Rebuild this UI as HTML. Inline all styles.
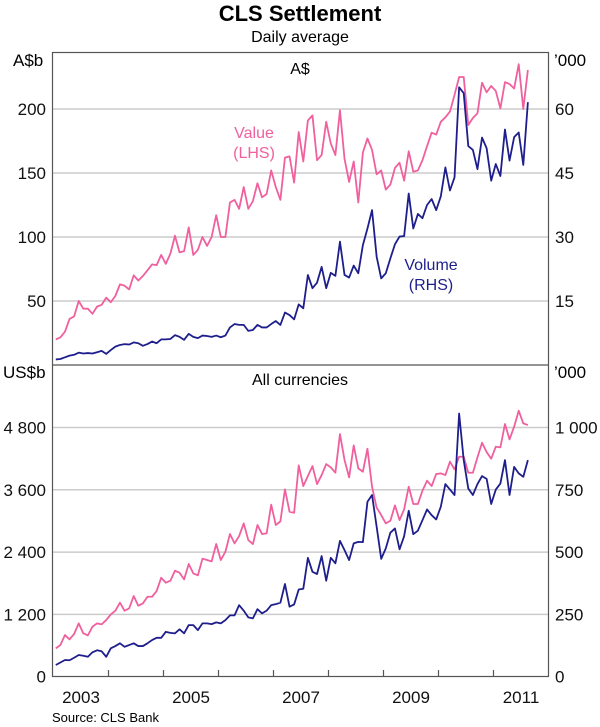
<!DOCTYPE html>
<html><head><meta charset="utf-8"><style>
body{margin:0;background:#fff;}
svg{display:block;font-family:"Liberation Sans",Arial,sans-serif;}
</style></head><body>
<svg id="chart" width="600" height="727" viewBox="0 0 600 727">
<text x="300" y="21" text-anchor="middle" font-size="22" font-weight="bold">CLS Settlement</text>
<text x="300" y="42" text-anchor="middle" font-size="16">Daily average</text>
<g id="grid"></g>
<g id="series"></g>
<rect x="52.5" y="52.5" width="496" height="624" fill="none" stroke="#555" stroke-width="1.2"/>
<line x1="52.5" y1="365" x2="548.5" y2="365" stroke="#555" stroke-width="1.2"/>
<g id="labels" font-size="17" fill="#111"></g>
<text x="300" y="74" text-anchor="middle" font-size="16">A$</text>
<text x="300" y="385" text-anchor="middle" font-size="16">All currencies</text>
<text x="13" y="66" font-size="17">A$b</text>
<text x="554" y="66" font-size="17">’000</text>
<text x="3" y="378" font-size="17">US$b</text>
<text x="554" y="378" font-size="17">’000</text>
<text x="254" y="138" text-anchor="middle" font-size="16" fill="#f0609e">Value</text>
<text x="254" y="158" text-anchor="middle" font-size="16" fill="#f0609e">(LHS)</text>
<text x="431" y="270" text-anchor="middle" font-size="16" fill="#1e1e8c">Volume</text>
<text x="431" y="290" text-anchor="middle" font-size="16" fill="#1e1e8c">(RHS)</text>
<text x="52" y="722" font-size="13">Source: CLS Bank</text>
</svg>
<script>
const topValue=[20,21.5,26,36,38,50,44,44,40,45.6,47,52.6,49,54,63,62,59,70,66,69.5,74,78.6,78,86,79,87,101,88,89,107.5,86,90,100,93,100,117,100,100,127,129,122,139,122,128,142,131,133.6,152,139,129,162,163,142.5,182,159,191,195,160,164,190,173,164,199,161,143,159,127,166,177,168,149,152,137,141,154,158,144,167,151,152,160,171,181.5,180,190,193.5,198,211,225,225,187.5,193,196.6,220.5,213,218,214,200.5,221,219.5,216,235,200,230.5];
const topVolume=[1.3,1.4,1.8,2.2,2.4,2.9,2.7,2.8,2.7,3.0,3.3,2.6,3.5,4.3,4.7,4.9,4.8,5.3,5.1,4.5,4.9,5.5,5.1,6.0,6.0,6.1,7.0,6.6,5.9,7.3,6.6,6.3,6.9,6.8,6.6,6.9,6.5,6.9,8.8,9.6,9.4,9.4,8.0,8.2,9.4,8.8,8.8,9.6,10.3,9.4,12.3,11.7,10.7,14.2,13.3,21.1,18.0,19.3,23.0,18.0,21.6,20.9,28.9,21.1,20.5,23.3,21.5,28.1,32.0,36.3,25.4,20.3,21.5,25.0,28.3,30.1,30.2,40.2,32.0,35.4,34.4,37.5,38.9,36.3,39.5,46.3,40.9,44.0,65.1,63.7,51.3,50.4,45.9,53.3,50.8,43.2,47.1,44.3,55.2,47.9,53.4,54.5,46.9,61.6];
const allValue=[546,610,802,719,822,1027,835,796,963,1027,1008,1091,1200,1271,1425,1271,1316,1554,1367,1412,1540,1540,1650,1907,1810,1849,2041,2003,1875,2170,1990,1952,2273,2247,2221,2555,2247,2407,2748,2568,2709,2953,2632,2555,2921,2748,2761,3313,2921,2992,3608,3178,3158,4070,3672,3865,4057,3711,3884,4096,4032,3929,4674,4173,3839,4455,4013,3948,4391,3659,3255,3114,2953,3005,3300,3017,3223,3659,3326,3326,3582,3775,3672,3903,3916,3884,4141,3993,4237,4237,3929,3929,4224,4507,4327,4199,4430,4417,4866,4571,4815,5123,4879,4847];
const allVolume=[47,57,67,66,76,87,84,80,98,106,102,80,114,123,134,120,127,134,123,123,134,147,156,156,180,176,174,190,174,207,207,187,214,214,211,218,214,227,246,246,287,265,238,234,271,254,265,287,291,297,372,281,290,350,353,477,421,412,484,385,477,455,545,508,468,535,541,540,702,729,602,473,515,578,595,511,564,666,572,586,628,671,648,631,682,773,751,729,1056,869,755,729,773,805,794,693,751,775,869,729,842,816,802,869];
const topLeftTicks=[50,100,150,200];
const topRightTicks=[15,30,45,60];
const botLeftTicks=[0,1200,2400,3600,4800];
const botLeftTickLabels=["0","1 200","2 400","3 600","4 800"];
const botRightTickLabels=["0","250","500","750","1 000"];
const botRightTicks=[0,250,500,750,1000];
const yearLabels=[2003,2005,2007,2009,2011];
const startYear=2003;

const NS="http://www.w3.org/2000/svg";
const X0=53.5, PX_PER_YEAR=55;
function xMonth(i){return X0+(i+0.5)*PX_PER_YEAR/12;}
function xYear(y){return X0+(y-startYear)*PX_PER_YEAR;}
function yTopL(v){return 365-v*1.28;}
function yTopR(v){return 365-v*1.28/0.3;}
function yBotL(v){return 676.7-v*62.3/1200;}
function yBotR(v){return 676.7-v*62.3/250;}
function mk(tag,attrs,parent){const e=document.createElementNS(NS,tag);for(const k in attrs)e.setAttribute(k,attrs[k]);parent.appendChild(e);return e;}
const grid=document.getElementById('grid'),ser=document.getElementById('series'),lab=document.getElementById('labels');

topLeftTicks.forEach((v,i)=>{
  const y=yTopL(v);
  const g=mk('line',{x1:52.5,x2:548.5,y1:y,y2:y,stroke:'#ccc','stroke-width':1.5},grid);
  
  
  const t=mk('text',{x:46,y:y+6,'text-anchor':'end'},lab);t.textContent=v;
  
  
  const r=mk('text',{x:555,y:yTopR(topRightTicks[i])+6},lab);r.textContent=topRightTicks[i];
  
  
});
botLeftTicks.forEach((v,i)=>{
  const y=yBotL(v);
  if(v>0){const g=mk('line',{x1:52.5,x2:548.5,y1:y,y2:y,stroke:'#ccc','stroke-width':1.5},grid);
  
  }
  const t=mk('text',{x:46,y:y+6,'text-anchor':'end'},lab);t.textContent=botLeftTickLabels[i];
  
  
  const r=mk('text',{x:555,y:yBotR(botRightTicks[i])+6},lab);r.textContent=botRightTickLabels[i];
  
  
});
for(let yr=startYear+1;yr<startYear+9;yr++){
  const x=xYear(yr);
  const tk=mk('line',{x1:x,x2:x,y1:676.7,y2:670,stroke:'#555','stroke-width':1.2},grid);
  
  
}
yearLabels.forEach(yr=>{
  const t=mk('text',{x:xYear(yr)+PX_PER_YEAR/2,y:703,'text-anchor':'middle'},lab);t.textContent=yr;
  
  
});
function line(data,yf,color,name){
  const d=data.map((v,i)=>(i?'L':'M')+xMonth(i).toFixed(2)+','+yf(v).toFixed(2)).join('');
  const p=mk('path',{d:d,fill:'none',stroke:color,'stroke-width':1.8,'stroke-linejoin':'round'},ser);
  
  
}
line(topValue,yTopL,'#f0609e','aud-value-line');
line(topVolume,yTopR,'#1e1e8c','aud-volume-line');
line(allValue,yBotL,'#f0609e','all-value-line');
line(allVolume,yBotR,'#1e1e8c','all-volume-line');
</script>
</body></html>
